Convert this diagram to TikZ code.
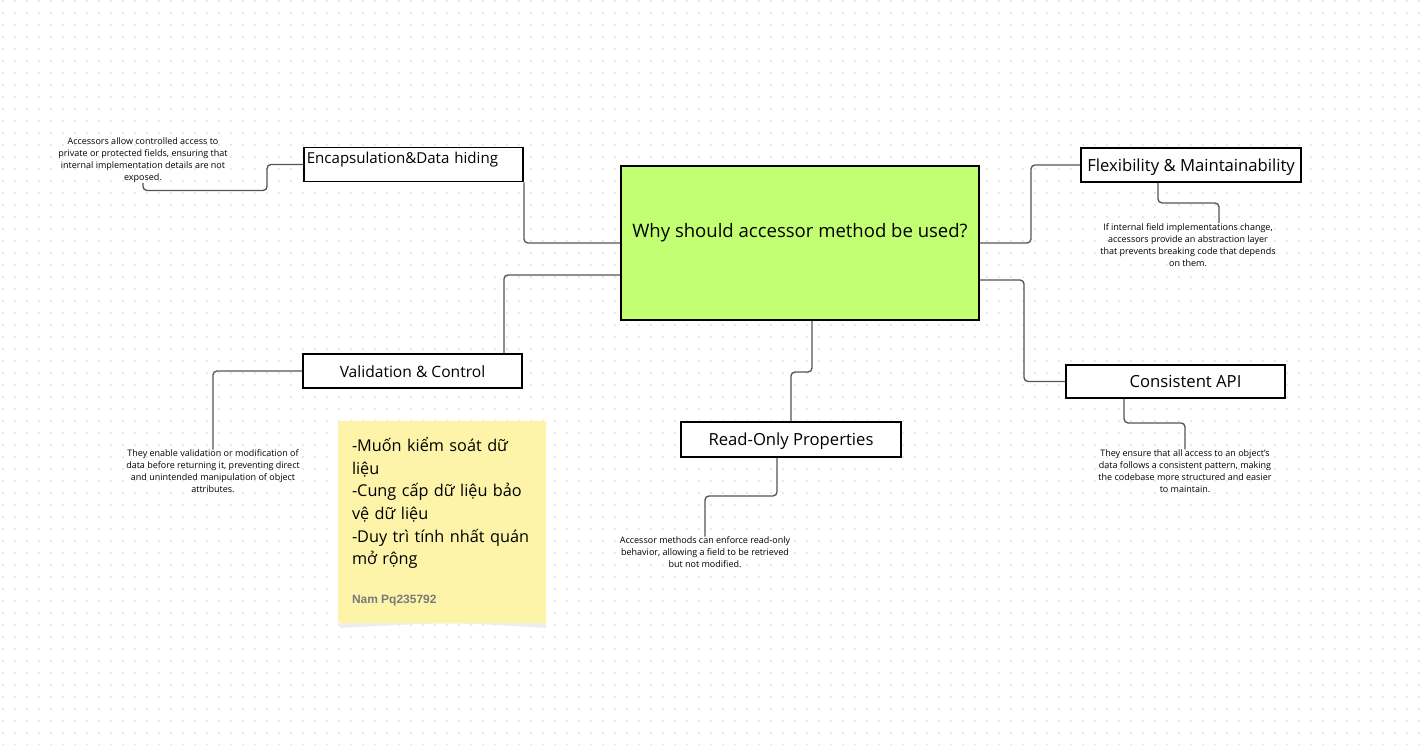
\documentclass[tikz,border=0pt]{standalone}
\usepackage{fontspec}
\setmainfont{Open Sans}
\newfontfamily\signfont{Liberation Sans}
\usepackage{tikz}
\usetikzlibrary{positioning}
\definecolor{whygreen}{HTML}{C2FF72}
\definecolor{stickyyellow}{HTML}{FDF4A9}
\definecolor{gridgray}{HTML}{E8E8E8}
\definecolor{linkgray}{HTML}{555555}
\definecolor{signgray}{HTML}{7A7A7A}
\tikzset{
    mind map/.style={
            x=0.75pt,y=-0.75pt,
            topic/.style={draw=black,line width=1.4pt,fill=white,
                    minimum height=25.5pt,inner sep=1pt,
                    text height=11.5pt,text depth=2pt,
                    font=\fontsize{12.5}{14}\selectfont},
            hint/.style={align=center,inner sep=0pt,
                    font=\fontsize{6.75}{9}\selectfont},
            link/.style={draw=linkgray,line width=1pt,rounded corners=3pt}
        }
    }

\begin{document}
\begin{tikzpicture}[mind map]
    \useasboundingbox (0,0) rectangle (1421,745);
    % dotted paper
    \foreach \y in {1,13,...,745}
        \draw[gridgray,line width=1.5pt,dash pattern=on 1.5pt off 7.5pt] (2,\y) -- (1421,\y);

    % centre
    \node[draw=black,line width=1.5pt,fill=whygreen,minimum width=268.5pt,
        minimum height=115.5pt,text depth=19pt,
        font=\fontsize{13.9}{16}\selectfont] (why) at (800,243) {Why should accessor method be used?};

    % topics
    \node[topic,minimum width=164.25pt,text width=160pt,align=left,text height=9pt,text depth=10.5pt,
        font=\fontsize{11.3}{13}\selectfont] (encap) at (413.5,164.5) {Encapsulation\&Data hiding};
    \node[topic,minimum width=165pt] (flex) at (1191,165) {Flexibility \& Maintainability};
    \node[topic,minimum width=164.25pt,minimum height=24.75pt] (api) at (1175.5,381.5) {\hspace*{15pt}Consistent API};
    \node[topic,minimum width=164.25pt,font=\fontsize{11.7}{13}\selectfont] (valid) at (412.5,371) {Validation \& Control};
    \node[topic,minimum width=165pt,minimum height=26.25pt] (readonly) at (791,439.5) {Read-Only Properties};

    % hints
    \node[hint] (encaphint) at (143,160) {Accessors allow controlled access to\\private or protected fields, ensuring that\\internal implementation details are not\\exposed.};
    \node[hint] (flexhint) at (1188,245) {If internal field implementations change,\\accessors provide an abstraction layer\\that prevents breaking code that depends\\on them.};
    \node[hint] (apihint) at (1185,471) {They ensure that all access to an object's\\data follows a consistent pattern, making\\the codebase more structured and easier\\to maintain.};
    \node[hint] (validhint) at (213,471.5) {They enable validation or modification of\\data before returning it, preventing direct\\and unintended manipulation of object\\attributes.};
    \node[hint] (readonlyhint) at (705,552.5) {Accessor methods can enforce read-only\\behavior, allowing a field to be retrieved\\but not modified.};

    % links
    \draw[link] (why.west) -| (encap.south east);
    \draw[link] ([yshift=-24pt]why.west) -| ([xshift=-14.25pt]valid.north east);
    \draw[link] (why.east) -- ++(51,0) |- (flex.west);
    \draw[link] ([yshift=-27.75pt]why.east) -- ++(44,0) |- (api.west);
    \draw[link] ([xshift=9pt]why.south) -- ++(0,51) -| (readonly.north);

    \draw[link] (encap.west) -- ++(-36,0) -- ++(0,26) -| (encaphint.south);
    \draw[link] ([xshift=-24.75pt]flex.south) -- ++(0,20) -| ([xshift=23.25pt]flexhint.north);
    \draw[link] ([xshift=-38.6pt]api.south) -- ++(0,24) -| (apihint.north);
    \draw[link] (valid.west) -| (validhint.north);
    \draw[link] ([xshift=-10.5pt]readonly.south) -- ++(0,38) -| (readonlyhint.north);

    % sticky note
    \fill[gray!14] (340,614) -- (546,614) -- (546,628) .. controls (450,622) .. (340,628) -- cycle;
    \node[fill=stickyyellow,minimum width=156pt,minimum height=151.5pt,
        text width=135pt,align=left,inner sep=0pt,
        font=\fontsize{12.2}{16.9}\selectfont] (sticky) at (442,522) {-Muốn kiểm soát dữ\\liệu\\-Cung cấp dữ liệu bảo\\vệ dữ liệu\\-Duy trì tính nhất quán\\mở rộng\\[12.5pt]\mbox{\signfont\bfseries\fontsize{9}{10}\selectfont\color{signgray}Nam\hskip2.4pt Pq235792}};
\end{tikzpicture}
\end{document}
